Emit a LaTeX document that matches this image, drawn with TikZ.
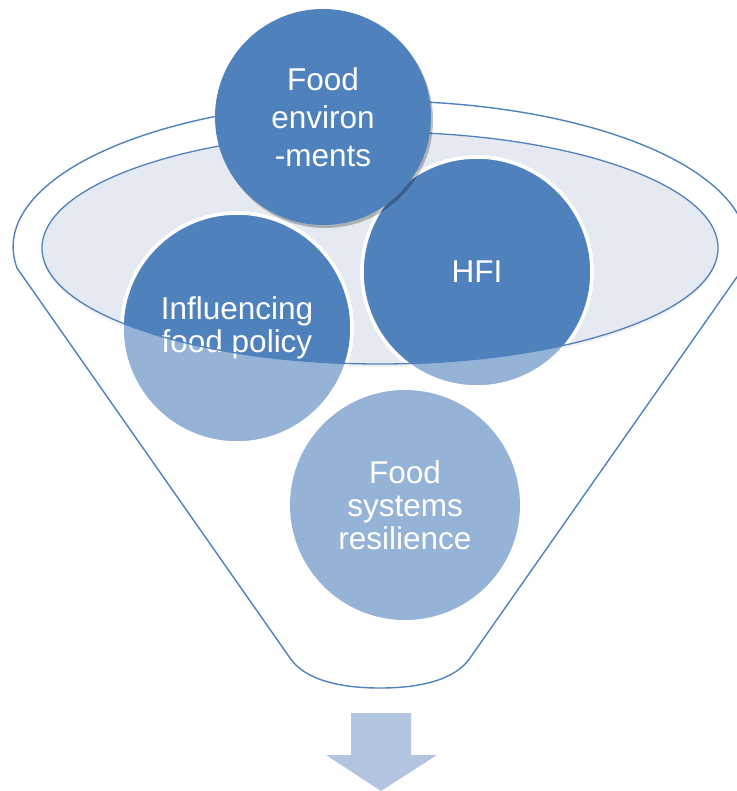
\documentclass[tikz,border=0pt]{standalone}
\usepackage{fontspec}
\setmainfont{Liberation Sans}
\usetikzlibrary{shadows}
\definecolor{dk}{HTML}{4F81BD}
\definecolor{lt}{HTML}{95B3D7}
\definecolor{elf}{HTML}{E4E9F2}
\definecolor{arr}{HTML}{B3C4E0}
\begin{document}
\begin{tikzpicture}[x=1pt,y=-1pt,
  funnelline/.style={draw=dk, line width=1.4pt},
  ball/.style={circle, minimum size=230pt, inner sep=0pt},
  ring/.style={draw=white, line width=3.5pt},
  txt/.style={text=white, align=center, font=\fontsize{31.5}{33}\selectfont},
  txtb/.style={text=white, align=center, font=\fontsize{31.5}{38}\selectfont}
]
\useasboundingbox (0,0) rectangle (736,791);
% outer funnel outline
\draw[funnelline] (17,268) arc[start angle=171.7, end angle=368.3, x radius=367, y radius=146]
  -- (470,658) .. controls (455,680) and (420,688) .. (380,688)
  .. controls (340,688) and (305,680) .. (290,658) -- cycle;
% inner ellipse with faint shadow
\fill[black, opacity=0.06] (380,251) ellipse[x radius=338, y radius=116];
\fill[elf] (380,248) ellipse[x radius=338, y radius=116];
% circles inside the funnel mouth (light part below the ellipse)
\node[ball, fill=lt, ring] (infl) at (237,328) {};
\node[ball, fill=lt, ring] (hfi) at (477,272) {};
% dark part inside the ellipse
\begin{scope}
  \clip (380,248) ellipse[x radius=338, y radius=116];
  \filldraw[fill=dk, ring] (infl.center) circle[radius=115];
  \filldraw[fill=dk, ring] (hfi.center) circle[radius=115];
\end{scope}
\node[txt] (infltxt) at (infl.center) {Influencing\\food policy};
\node[txt] (hfitxt) at (hfi.center) {HFI};
% inner ellipse border
\draw[dk, line width=1.3pt] (380,248) ellipse[x radius=338, y radius=116];
% lower circle
\node[ball, fill=lt, txt] (fsr) at (405,505) {Food\\systems\\resilience};
% top circle
\node[circle, minimum size=216pt, inner sep=0pt, fill=dk, txtb,
  drop shadow={shadow xshift=2pt, shadow yshift=-3pt, opacity=0.25, fill=black}]
  (fenv) at (323,117) {Food\\environ\\-ments};
% arrow
\fill[arr] (351,713) -- (411,713) -- (411,755) -- (437,755) -- (381,791)
  -- (326,755) -- (351,755) -- cycle;
\end{tikzpicture}
\end{document}
